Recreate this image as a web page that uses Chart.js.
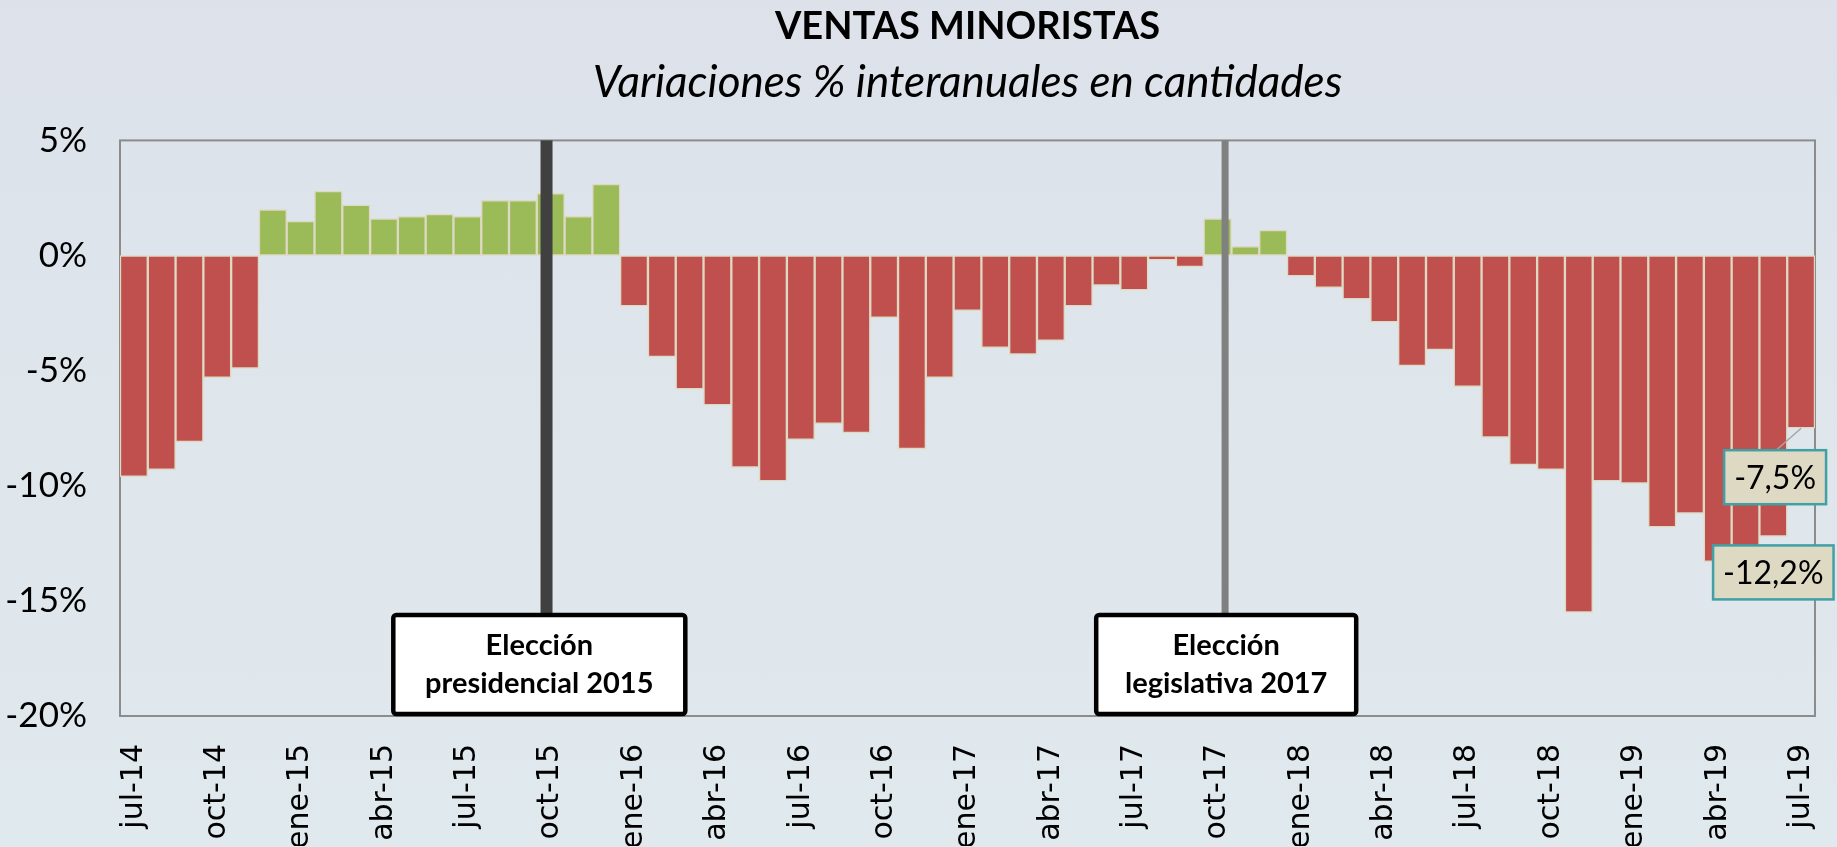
<!DOCTYPE html>
<html lang="es">
<head>
<meta charset="utf-8">
<title>Ventas minoristas</title>
<script src="https://cdn.jsdelivr.net/npm/chart.js@4.4.1/dist/chart.umd.min.js"></script>
<style>
  html, body { margin: 0; padding: 0; overflow: hidden; }
  body { width: 1837px; height: 847px; background: linear-gradient(#dde2ea, #e0e9ed); }
  #wrap { width: 1837px; height: 847px; overflow: hidden; }
</style>
</head>
<body>
<div id="wrap"><canvas id="ventas" width="1837" height="900"></canvas></div>
<script>
// Ventas minoristas — variaciones % interanuales (jul-14 a jul-19)
const meses = [
  'jul-14', 'ago-14', 'sep-14', 'oct-14', 'nov-14', 'dic-14',
  'ene-15', 'feb-15', 'mar-15', 'abr-15', 'may-15', 'jun-15',
  'jul-15', 'ago-15', 'sep-15', 'oct-15', 'nov-15', 'dic-15',
  'ene-16', 'feb-16', 'mar-16', 'abr-16', 'may-16', 'jun-16',
  'jul-16', 'ago-16', 'sep-16', 'oct-16', 'nov-16', 'dic-16',
  'ene-17', 'feb-17', 'mar-17', 'abr-17', 'may-17', 'jun-17',
  'jul-17', 'ago-17', 'sep-17', 'oct-17', 'nov-17', 'dic-17',
  'ene-18', 'feb-18', 'mar-18', 'abr-18', 'may-18', 'jun-18',
  'jul-18', 'ago-18', 'sep-18', 'oct-18', 'nov-18', 'dic-18',
  'ene-19', 'feb-19', 'mar-19', 'abr-19', 'may-19', 'jun-19',
  'jul-19'
];

const variacion = [
  -9.6, -9.3, -8.1, -5.3, -4.9, 2.0,
  1.5, 2.8, 2.2, 1.6, 1.7, 1.8,
  1.7, 2.4, 2.4, 2.7, 1.7, 3.1,
  -2.2, -4.4, -5.8, -6.5, -9.2, -9.8,
  -8.0, -7.3, -7.7, -2.7, -8.4, -5.3,
  -2.4, -4.0, -4.3, -3.7, -2.2, -1.3,
  -1.5, -0.2, -0.5, 1.6, 0.4, 1.1,
  -0.9, -1.4, -1.9, -2.9, -4.8, -4.1,
  -5.7, -7.9, -9.1, -9.3, -15.5, -9.8,
  -9.9, -11.8, -11.2, -13.3, -12.9, -12.2,
  -7.5
];

const yTicks = [5, 0, -5, -10, -15, -20];

// elecciones: posición de la línea (en índice de categoría) y texto del recuadro
const eleccionPos = [14.85, 39.27];
const eleccionCaja = [14.59, 39.31];
const eleccionTexto = [['Elección', 'presidencial 2015'], ['Elección', 'legislativa 2017']];

// últimos datos rotulados
const rotulados = [60, 59];

const rojo = '#c0504d';
const verde = '#9bbb59';
const beige = '#ddd9c3';

const fmt = v => v.toFixed(1).replace('.', ',') + '%';

const marco = {
  id: 'marco',
  beforeDatasetsDraw(chart) {
    const { ctx, chartArea: a } = chart;
    ctx.save();
    ctx.strokeStyle = '#8c8c8c';
    ctx.lineWidth = 2;
    ctx.strokeRect(a.left, a.top, a.right - a.left, a.bottom - a.top);
    ctx.restore();
  }
};

const elecciones = {
  id: 'elecciones',
  afterDatasetsDraw(chart) {
    const { ctx, chartArea: a, scales: { x } } = chart;
    const estilos = [{ color: '#404040', ancho: 12, caja: 296 }, { color: '#808080', ancho: 7, caja: 264 }];
    const boxTop = a.bottom - 103;
    ctx.save();
    eleccionPos.forEach((pos, i) => {
      const st = estilos[i];
      const px = x.getPixelForValue(pos);
      ctx.fillStyle = st.color;
      ctx.fillRect(px - st.ancho / 2, a.top, st.ancho, boxTop - a.top);

      const cx = x.getPixelForValue(eleccionCaja[i]);
      ctx.beginPath();
      ctx.roundRect(cx - st.caja / 2 + 2, boxTop + 2, st.caja - 4, 103 - 4, 3);
      ctx.fillStyle = '#ffffff';
      ctx.fill();
      ctx.lineWidth = 4.5;
      ctx.strokeStyle = '#000000';
      ctx.stroke();

      ctx.fillStyle = '#000';
      ctx.font = 'bold 29px Lato';
      ctx.textAlign = 'center';
      ctx.textBaseline = 'middle';
      ctx.fillText(eleccionTexto[i][0], cx, boxTop + 33);
      ctx.fillText(eleccionTexto[i][1], cx, boxTop + 71);
    });
    ctx.restore();
  }
};

const rotulos = {
  id: 'rotulos',
  afterDraw(chart) {
    const { ctx } = chart;
    const meta = chart.getDatasetMeta(0);
    const desplaz = [{ dx: -26, dy: 49, guia: true }, { dx: 0, dy: 36, guia: false }];
    ctx.save();
    ctx.font = '32px Lato';
    ctx.textAlign = 'center';
    ctx.textBaseline = 'middle';
    rotulados.forEach((idx, i) => {
      const bar = meta.data[idx];
      const d = desplaz[i];
      const txt = fmt(variacion[idx]);
      const w = ctx.measureText(txt).width + 20;
      const h = 54;
      const cx = bar.x + d.dx, cy = bar.y + d.dy;
      if (d.guia) {
        ctx.strokeStyle = '#a6a6a6';
        ctx.lineWidth = 1.5;
        ctx.beginPath();
        ctx.moveTo(bar.x, bar.y);
        ctx.lineTo(cx + 1, cy - h / 2);
        ctx.stroke();
      }
      ctx.fillStyle = beige;
      ctx.fillRect(cx - w / 2, cy - h / 2, w, h);
      ctx.strokeStyle = '#40a0a5';
      ctx.lineWidth = 2.5;
      ctx.strokeRect(cx - w / 2, cy - h / 2, w, h);
      ctx.fillStyle = '#000';
      ctx.fillText(txt, cx, cy + 1);
    });
    ctx.restore();
  }
};

new Chart(document.getElementById('ventas'), {
  type: 'bar',
  data: {
    labels: meses,
    datasets: [{
      data: variacion,
      backgroundColor: ctx => (ctx.raw >= 0 ? verde : rojo),
      borderColor: beige,
      borderWidth: 1.5,
      borderSkipped: false,
      barPercentage: 1,
      categoryPercentage: 1
    }]
  },
  options: {
    responsive: false,
    devicePixelRatio: 1,
    animation: false,
    layout: { padding: { left: 0, right: 22, top: 0, bottom: 54 } },
    plugins: {
      legend: { display: false },
      tooltip: { enabled: false },
      title: {
        display: true,
        fullSize: false,
        text: 'VENTAS MINORISTAS',
        color: '#000',
        font: { family: 'Lato', size: 38, weight: 'bold', lineHeight: 1.2 },
        padding: { top: 4, bottom: 0 }
      },
      subtitle: {
        display: true,
        fullSize: false,
        text: 'Variaciones % interanuales en cantidades',
        color: '#000',
        font: { family: 'Lato', size: 44, style: 'italic', lineHeight: 1.2 },
        padding: { top: 7, bottom: 31 }
      }
    },
    scales: {
      x: {
        grid: { display: false, drawTicks: false },
        border: { display: false },
        ticks: {
          autoSkip: false,
          maxRotation: 90,
          minRotation: 90,
          padding: 28,
          color: '#000',
          font: { family: 'DejaVu Sans', size: 30 },
          callback: (v, i) => (i % 3 === 0 ? meses[i] : '')
        },
        afterFit: s => { s.height = 130; s.paddingLeft = 0; s.paddingRight = 0; }
      },
      y: {
        min: Math.min(...yTicks),
        max: Math.max(...yTicks),
        grid: { display: false, drawTicks: false },
        border: { display: false },
        ticks: {
          stepSize: 5,
          padding: 33,
          color: '#000',
          font: { family: 'Lato', size: 35 },
          callback: v => v + '%'
        },
        afterFit: s => { s.width = 120; }
      }
    }
  },
  plugins: [marco, elecciones, rotulos]
});
</script>
</body>
</html>
